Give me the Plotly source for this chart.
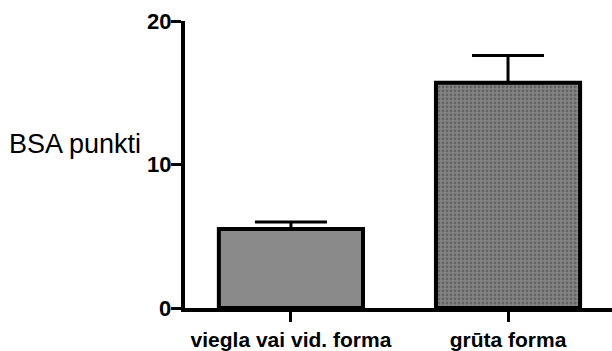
import plotly.graph_objects as go

categories = ["viegla vai vid. forma", "grūta forma"]
means = [5.5, 15.7]
sd_upper = [0.5, 1.9]
y_ticks = [0, 10, 20]
y_tick_labels = ["0", "10", "20"]

fig = go.Figure()
fig.add_trace(go.Bar(
    x=categories,
    y=means,
    width=0.664,
    marker=dict(
        color=["#8a8a8a", "#858585"],
        line=dict(color="black", width=4),
        pattern=dict(shape=["", "."], fgcolor="#666666", bgcolor="#a6a6a6",
                     size=4, solidity=0.4),
    ),
    error_y=dict(type="data", symmetric=False, array=sd_upper,
                 arrayminus=[0, 0], color="black", thickness=3, width=36),
))

fig.update_layout(
    width=612, height=351,
    margin=dict(l=185, r=0, t=21, b=43),
    paper_bgcolor="white", plot_bgcolor="white",
    showlegend=False,
    font=dict(family="Liberation Sans", color="black"),
)
fig.update_xaxes(
    range=[-0.488, 1.479],
    showline=True, linecolor="black", linewidth=4,
    ticks="outside", ticklen=10, tickwidth=3, tickcolor="black",
    tickfont=dict(size=21, weight="bold"),
    showgrid=False, zeroline=False,
)
fig.update_yaxes(
    range=[0, 20], tickvals=y_ticks, showticklabels=False,
    showline=True, linecolor="black", linewidth=4,
    ticks="outside", ticklen=10, tickwidth=3, tickcolor="black",
    showgrid=False, zeroline=False,
)

# y tick labels sit flush against the tick marks
for val, lab in zip(y_ticks, y_tick_labels):
    fig.add_annotation(
        text=lab, xref="paper", yref="y", x=0, y=val,
        xanchor="right", yanchor="middle", xshift=-13, showarrow=False,
        borderpad=0,
        font=dict(size=22, weight="bold", color="black"),
    )

fig.add_annotation(
    text="BSA punkti", xref="paper", yref="paper",
    x=-0.258, y=0.571, xanchor="center", yanchor="middle", showarrow=False,
    font=dict(size=27, family="Liberation Sans", color="black"),
)

fig.write_html("out.html")
